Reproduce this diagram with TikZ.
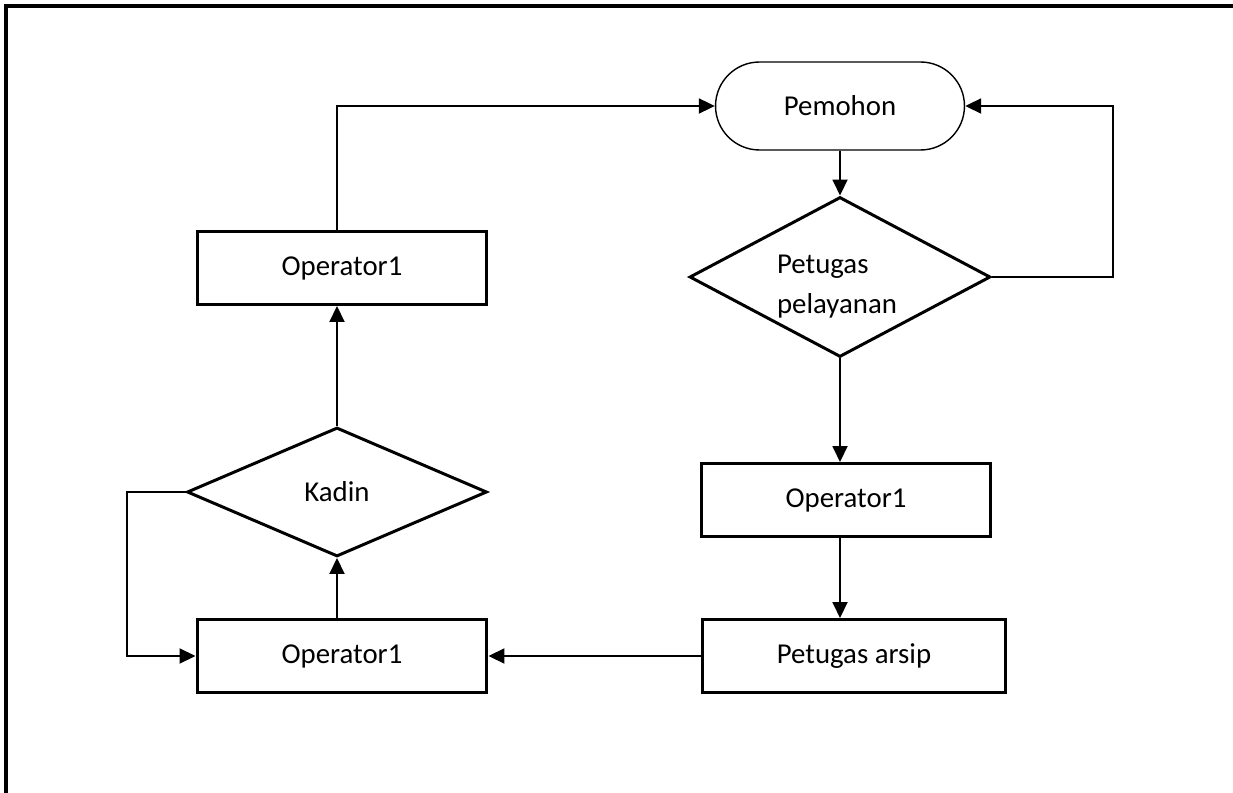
\documentclass[tikz,border=0pt]{standalone}
\usepackage{fontspec}
\setmainfont{Carlito}
\usetikzlibrary{shapes.geometric,arrows.meta}

\begin{document}
\begin{tikzpicture}[x=0.02cm,y=-0.02cm,
    font=\fontsize{16.4}{22.8}\selectfont,
    kotak/.style={draw,line width=1.7pt,minimum width=5.8cm,minimum height=1.46cm,inner sep=0pt},
    keputusan/.style={draw,diamond,line width=1.7pt,inner sep=0pt},
    terminal/.style={draw,line width=0.8pt,rounded corners=0.88cm,minimum width=4.98cm,minimum height=1.76cm},
    alur/.style={line width=1.1pt,-{Triangle[length=0.32cm,width=0.3cm]}},
    garis/.style={line width=1.1pt}]
        \useasboundingbox (0,0) rectangle (1233,793);
        \draw[line width=1.8pt] (6,793) -- (6,6) -- (1233,6);

        \node[terminal] (pemohon) at (840,106) {Pemohon};
        \node[keputusan,minimum width=6.02cm,minimum height=3.2cm] (pelayanan) at (840,277) {};
        \node[align=left,inner sep=0pt] at (837,287) {Petugas\\pelayanan};
        \node[kotak] (opkanan) at (846,500) {Operator1};
        \node[kotak,minimum width=6.08cm] (arsip) at (854,656) {Petugas arsip};
        \node[kotak] (opbawah) at (342,656) {Operator1};
        \node[keputusan,minimum width=6cm,minimum height=2.58cm] (kadin) at (337,492) {Kadin};
        \node[kotak] (opatas) at (342,268) {Operator1};

        \draw[alur] (pemohon) -- (pelayanan);
        \draw[alur] (pelayanan.south) -- (pelayanan.south |- opkanan.north);
        \draw[alur] (pelayanan.south |- opkanan.south) -- (pelayanan.south |- arsip.north);
        \draw[alur] (arsip.west) -- (opbawah.east);
        \draw[alur] (kadin.south |- opbawah.north) -- (kadin.south);
        \draw[alur] (kadin.north) -- (kadin.north |- opatas.south);
        \draw[alur] (kadin.north |- opatas.north) |- (pemohon.west);
        \draw[alur] (pelayanan.east) -- ++(121,0) |- (pemohon.east);
        \draw[alur] (kadin.west) -- ++(-59,0) |- (opbawah.west);
\end{tikzpicture}
\end{document}
